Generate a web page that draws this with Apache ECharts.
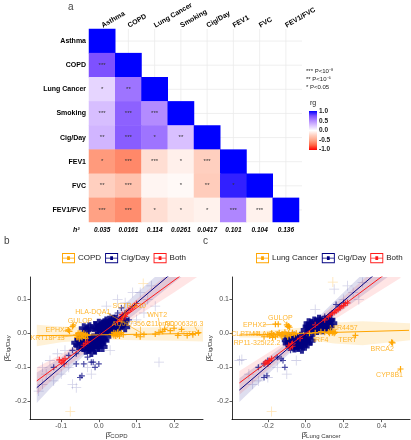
<!DOCTYPE html>
<html><head><meta charset="utf-8">
<script src="https://cdn.jsdelivr.net/npm/echarts@6/dist/echarts.min.js"></script>
<style>html,body{margin:0;padding:0;background:#fff}#c{width:411px;height:440px}</style>
</head><body><div id="c"></div>
<script>
// ---------- panel a: genetic correlations ----------
const traits = ['Asthma','COPD','Lung Cancer','Smoking','Cig/Day','FEV1','FVC','FEV1/FVC'];
const rgRows = [
  [1],
  [0.75, 1],
  [0.18, 0.60, 1],
  [0.28, 0.68, 0.50, 1],
  [0.32, 0.70, 0.60, 0.27, 1],
  [-0.55, -0.62, -0.17, -0.08, -0.25, 1],
  [-0.25, -0.33, -0.05, -0.03, -0.27, 0.90, 1],
  [-0.52, -0.60, -0.17, -0.10, -0.07, 0.52, -0.07, 1]
];
const starRows = [
  [''],
  ['***',''],
  ['*','**',''],
  ['***','***','***',''],
  ['**','***','*','**',''],
  ['*','***','***','*','***',''],
  ['**','***','','*','**','*',''],
  ['***','***','*','*','*','***','***','']
];
const h2Labels = ['0.035','0.0161','0.114','0.0261','0.0417','0.101','0.104','0.136'];
const rgColors = ['#FF0000','#FF6846','#FFA689','#FFCFBF','#FFFFFF','#DCC5FF','#B38BFF','#7E51FF','#0000FF'];
const rgTicks = ['1.0','0.5','0.0','-0.5','-1.0'];
const pLegend = ['*** P<10\u207B\u2078','** P<10\u207B\u2075','* P<0.05'];

// ---------- panel b: COPD vs Cig/Day ----------
const cigBlobB = [[-0.005,0.010],[0.000,0.015],[0.000,0.028],[0.005,0.020],[0.010,0.005],[0.010,0.012],[0.010,0.025],[0.015,0.018],[0.015,0.030],[0.020,0.010],[0.020,0.022],[0.020,0.035],[0.025,0.015],[0.025,0.028],[0.030,0.008],[0.030,0.020],[0.030,0.035],[0.035,0.012],[0.035,0.025],[0.038,0.040],[0.040,0.018],[0.040,0.030],[0.045,0.022],[0.045,0.040],[0.050,0.015],[0.050,0.028],[0.055,0.020],[0.058,0.035],[0.060,0.025],[0.065,0.030],[0.070,0.018],[0.068,0.040],[-0.040,0.015],[-0.030,0.012],[-0.025,0.018],[-0.010,0.022],
  [-0.060,-0.028],[-0.055,-0.035],[-0.050,-0.020],[-0.045,-0.030],[-0.045,-0.010],[-0.040,-0.015],[-0.040,-0.040],[-0.035,-0.025],[-0.035,-0.048],[-0.030,-0.035],[-0.030,-0.010],[-0.025,-0.020],[-0.025,-0.045],[-0.020,-0.030],[-0.020,-0.055],[-0.015,-0.015],[-0.015,-0.038],[-0.010,-0.025],[-0.010,-0.048],[-0.005,-0.032],[-0.005,-0.010],[0.000,-0.020],[0.000,-0.040],[0.005,-0.028],[0.010,-0.015],[0.015,-0.022],[0.020,-0.010],[0.010,-0.040]];
const cigSparseB = [[-0.120,-0.100],[-0.080,-0.065],[-0.070,-0.050],[-0.060,-0.090],[-0.060,-0.060],[-0.050,-0.130],[-0.045,-0.125],[-0.040,-0.090],[-0.030,-0.070],[-0.020,-0.085],[-0.015,-0.085],[-0.010,-0.100],[0.000,-0.090],[0.030,0.050],[0.050,0.060],[0.060,0.075],[0.070,0.060],[0.080,0.040]];
const fadedB = [[-0.160,-0.170],[-0.150,-0.100],[-0.140,-0.120],[-0.130,-0.080],[-0.120,-0.140],[-0.110,-0.060],[-0.100,-0.120],[-0.090,-0.050],[-0.080,-0.100],[-0.070,-0.150],[-0.060,-0.160],[-0.020,-0.120],[0.030,-0.050],[0.020,0.080],[0.080,0.030],[0.090,0.120],[0.100,0.040],[0.110,0.120],[0.120,0.060],[0.130,0.100],[0.140,0.140],[0.150,0.080],[0.160,-0.085],[-0.150,-0.150],[0.050,0.100],[-0.030,-0.100],[0.070,0.090]];
const fadedOrangeB = [[0.118,0.147],[-0.076,-0.230]];
const bothB = [[-0.105,-0.078],[-0.100,-0.085],[-0.095,-0.080],[-0.092,-0.090],[-0.090,-0.075],[-0.040,-0.035],[-0.035,-0.030],[-0.030,-0.025],[0.050,0.035],[0.055,0.042],[0.060,0.040],[0.060,0.048],[0.062,0.055],[0.065,0.052],[0.070,0.050],[0.070,0.058],[0.075,0.062],[0.080,0.068],[0.085,0.072],[0.090,0.078],[0.095,0.082],[0.100,0.088]];
const copdB = [[-0.081,0.010],[-0.078,0.006],[-0.070,0.020],[-0.068,0.024],[-0.060,-0.005],[-0.058,-0.012],[-0.055,0.000],[-0.052,-0.016],[-0.050,-0.008],[-0.050,0.002],[-0.045,-0.003],[-0.045,-0.012],[-0.040,0.000],[-0.040,-0.008],[-0.035,-0.004],[-0.035,-0.015],[-0.030,-0.006],[0.035,-0.003],[0.040,0.002],[0.040,-0.006],[0.045,0.000],[0.045,-0.008],[0.050,0.003],[0.050,-0.004],[0.055,-0.001],[0.055,-0.008],[0.060,0.002],[0.065,-0.004],[0.100,-0.005],[0.110,-0.010],[0.120,-0.003],[0.150,-0.002],[0.160,0.003],[0.170,0.006],[0.175,0.012],[0.190,0.008],[0.200,0.015],[0.210,-0.006],[0.220,0.012],[0.235,-0.006],[0.250,-0.004],[0.265,0.002]];
const copdLineB = [[-0.165,-0.007],[0.27,0.0]];
const cigLineB = [[-0.165,-0.160],[0.19,0.174]];
const bothLineB = [[-0.165,-0.140],[0.215,0.168]];
const bandXB = [-0.165,-0.1,0,0.1,0.2,0.28];
const cigLoB = [-0.205,-0.128,-0.025,0.060,0.150,0.215];
const cigHiB = [-0.115,-0.070,0.015,0.118,0.216,0.300];
const bothLoB = [-0.180,-0.112,-0.024,0.050,0.120,0.180];
const bothHiB = [-0.100,-0.062,0.012,0.100,0.190,0.270];
const copdLoB = [-0.038,-0.026,-0.018,-0.020,-0.022,-0.024];
const copdHiB = [0.025,0.020,0.016,0.017,0.019,0.021];
const labelsB = [['HLA-DQA1',-0.016,0.063],['SCTR/A10',0.081,0.080],['WNT2',0.155,0.054],['GULOP',-0.050,0.037],['EPHX2',-0.111,0.011],['KRT18P13',-0.136,-0.015],['AC097356.2',0.086,0.028],['C11orf30',0.163,0.028],['AC006326.3',0.226,0.028],['CFTR',0.235,-0.001]];
const segB = [[0.022,0.060,0.120,-0.003],[0.074,0.072,0.050,0.004],[0.158,0.046,0.165,0.004],[-0.058,0.030,-0.068,0.024],[-0.092,0.010,-0.081,0.010],[-0.108,-0.012,-0.060,-0.006],[0.110,0.020,0.110,-0.008],[0.185,0.020,0.175,0.012],[0.255,0.020,0.265,0.002]];

// ---------- panel c: Lung Cancer vs Cig/Day ----------
const cigBlobC = [[0.000,0.010],[0.010,0.020],[0.015,0.030],[0.020,0.008],[0.025,0.018],[0.030,0.028],[0.035,0.012],[0.040,0.022],[0.045,0.035],[0.050,0.015],[0.055,0.025],[0.060,0.010],[0.060,0.032],[0.065,0.020],[0.070,0.028],[0.075,0.015],[0.080,0.035],[0.085,0.022],[0.090,0.012],[0.095,0.030],[0.100,0.020],[0.105,0.038],[0.110,0.025],[0.115,0.015],[0.120,0.032],[0.125,0.022],[0.130,0.040],[0.140,0.030],[0.070,0.040],[0.040,0.005],
  [-0.100,-0.020],[-0.095,-0.030],[-0.090,-0.012],[-0.085,-0.025],[-0.080,-0.035],[-0.075,-0.018],[-0.070,-0.028],[-0.065,-0.010],[-0.060,-0.022],[-0.055,-0.035],[-0.050,-0.015],[-0.045,-0.028],[-0.040,-0.040],[-0.035,-0.020],[-0.030,-0.030],[-0.025,-0.010],[-0.020,-0.025],[-0.015,-0.036],[-0.010,-0.015],[-0.005,-0.028],[0.000,-0.020],[0.010,-0.030],[0.015,-0.012],[0.025,-0.022],[-0.060,-0.042],[-0.020,-0.045]];
const cigSparseC = [[-0.250,-0.100],[-0.220,-0.130],[-0.220,-0.090],[-0.205,-0.125],[-0.200,-0.080],[-0.150,-0.070],[-0.130,-0.075],[-0.120,-0.080],[-0.110,-0.100],[-0.080,-0.050],[-0.060,-0.045],[0.100,0.050],[0.140,0.060],[0.180,0.080],[0.200,0.090],[0.160,0.085]];
const fadedC = [[-0.350,-0.080],[-0.337,-0.077],[-0.300,-0.120],[-0.280,-0.150],[-0.250,-0.140],[-0.200,-0.130],[-0.150,-0.100],[-0.100,-0.120],[0.150,0.130],[0.200,0.100],[0.250,0.120],[0.280,0.100],[0.300,0.150],[0.220,0.140],[0.050,0.070],[-0.050,-0.080]];
const fadedOrangeC = [[0.143,0.151],[-0.180,-0.230]];
const bothC = [[-0.215,-0.088],[-0.210,-0.085],[-0.200,-0.090],[-0.195,-0.082],[-0.190,-0.080],[-0.180,-0.075],[-0.090,-0.035],[-0.085,-0.042],[-0.080,-0.040],[-0.075,-0.032],[-0.070,-0.030],[-0.070,-0.038],[-0.030,-0.015],[0.050,0.025],[0.100,0.040],[0.120,0.050],[0.130,0.055],[0.140,0.060],[0.150,0.062],[0.160,0.066],[0.170,0.070],[0.180,0.075],[0.190,0.080],[0.200,0.082],[0.210,0.088],[0.220,0.090]];
const lungC = [[-0.220,-0.010],[-0.200,-0.004],[-0.190,-0.008],[-0.180,0.000],[-0.175,-0.012],[-0.170,-0.005],[-0.160,-0.010],[-0.160,0.027],[-0.150,-0.003],[-0.145,0.027],[-0.140,0.002],[-0.130,-0.006],[-0.125,-0.010],[-0.120,-0.002],[-0.110,0.003],[-0.100,-0.004],[-0.100,0.025],[-0.095,-0.010],[-0.095,0.020],[-0.090,0.000],[-0.090,0.022],[-0.085,0.018],[-0.080,-0.006],[-0.070,0.002],[-0.060,-0.003],[-0.050,0.000],[0.020,0.000],[0.050,0.002],[0.080,0.005],[0.100,0.003],[0.120,0.004],[0.125,0.000],[0.130,0.006],[0.140,0.002],[0.145,0.005],[0.150,0.000],[0.155,0.003],[0.262,-0.006],[0.453,-0.026],[0.458,-0.028],[0.500,-0.105]];
const lungLineC = [[-0.35,-0.005],[0.545,0.009]];
const cigLineC = [[-0.35,-0.167],[0.36,0.172]];
const bothLineC = [[-0.35,-0.146],[0.41,0.171]];
const bandXC = [-0.35,-0.2,0,0.2,0.35,0.5];
const cigLoC = [-0.202,-0.121,-0.012,0.071,0.132,0.194];
const cigHiC = [-0.132,-0.071,0.012,0.121,0.202,0.284];
const bothLoC = [-0.181,-0.108,-0.012,0.058,0.111,0.163];
const bothHiC = [-0.111,-0.058,0.012,0.108,0.181,0.253];
const lungBandXC = [-0.35,-0.2,0,0.15,0.3,0.55];
const lungLoC = [-0.012,-0.014,-0.018,-0.030,-0.035,-0.020];
const lungHiC = [0.000,0.008,0.018,0.032,0.036,0.030];
const labelsC = [['GULOP',-0.134,0.046],['EPHX2',-0.270,0.025],['MIR4457',0.199,0.017],['CLPTM1L',-0.310,-0.001],['HLA-DQA1',-0.186,-0.001],['IRF4',0.079,-0.021],['TERT',0.220,-0.021],['RP11-325I22.2',-0.257,-0.030],['BRCA2',0.403,-0.047],['CYP8B1',0.442,-0.123]];
const segC = [[-0.120,0.040,-0.100,0.026],[-0.225,0.025,-0.160,0.027],[0.165,0.012,0.145,0.005],[0.240,-0.015,0.262,-0.006],[0.435,-0.038,0.453,-0.027],[0.480,-0.113,0.500,-0.105]];

// ---------- styling ----------
const FONT = 'Liberation Sans';
const ORANGE = '#FFA500', NAVY = '#000080', RED = '#FF1A1A';
const PLUS_THICK = 'path://M3,0H7V3H10V7H7V10H3V7H0V3H3Z';
const PLUS_THIN = 'path://M4,0H6V4H10V6H6V10H4V6H0V4H4Z';
const PLUS_HAIR = 'path://M4.6,0H5.4V4.6H10V5.4H5.4V10H4.6V5.4H0V4.6H4.6Z';
const KEY = 'path://M0,0H14V11H0Z M1,1V10H13V1Z M1,5H13V6H1Z M5.5,3.5H8.5V7.5H5.5Z';

const heatData = [];
rgRows.forEach((row, r) => row.forEach((v, c) => heatData.push([c, r, v])));

function band(xi, yi, xs, lo, hi, fill) {
  return {type:'custom', xAxisIndex:xi, yAxisIndex:yi, z:1, silent:true, data:[[xs[0], lo[0]]],
    renderItem: function(params, api) {
      const pts = [];
      for (let i = 0; i < xs.length; i++) pts.push(api.coord([xs[i], hi[i]]));
      for (let i = xs.length - 1; i >= 0; i--) pts.push(api.coord([xs[i], lo[i]]));
      const cs = params.coordSys;
      return {type:'polygon', shape:{points:pts}, style:{fill:fill},
        clipPath:{type:'rect', shape:{x:cs.x, y:cs.y, width:cs.width, height:cs.height}}};
    }};
}
function pts(name, xi, yi, data, symbol, size, color, opacity, z) {
  return {type:'scatter', name:name, xAxisIndex:xi, yAxisIndex:yi, data:data, symbol:symbol, symbolSize:size,
    itemStyle:{color:color, opacity:opacity}, z:z, silent:true};
}
function line(name, xi, yi, data, color) {
  return {type:'line', name:name, xAxisIndex:xi, yAxisIndex:yi, data:data, symbol:'none', clip:true,
    lineStyle:{color:color, width:1}, itemStyle:{color:color}, z:6, silent:true};
}
function labels(xi, yi, list) {
  return {type:'scatter', xAxisIndex:xi, yAxisIndex:yi, symbolSize:0, z:8, silent:true,
    data:list.map(l => ({name:l[0], value:[l[1], l[2]]})),
    label:{show:true, position:'inside', formatter:p => p.name, color:ORANGE, fontSize:7, fontFamily:FONT}};
}
function segs(xi, yi, list) {
  return {type:'lines', coordinateSystem:'cartesian2d', xAxisIndex:xi, yAxisIndex:yi, z:7, silent:true,
    data:list.map(s => ({coords:[[s[0], s[1]], [s[2], s[3]]]})),
    lineStyle:{color:ORANGE, width:0.6, opacity:1}};
}
function valAxis(grid, min, max, extra) {
  return Object.assign({type:'value', gridIndex:grid, min:min, max:max, splitLine:{show:false},
    axisLine:{show:true, onZero:false, lineStyle:{color:'#000', width:0.8}},
    axisTick:{show:true, length:2.5, lineStyle:{color:'#333', width:0.8}},
    axisLabel:{fontSize:7, color:'#4D4D4D', fontFamily:FONT, margin:3, showMinLabel:false, showMaxLabel:false,
      formatter: v => v.toFixed(1)}}, extra);
}
const subRich = {b:{fontSize:8, fontFamily:FONT, color:'#333'}, s:{fontSize:6, fontFamily:FONT, color:'#333', padding:[3,0,0,0]}};

const legendCommon = {itemWidth:13, itemHeight:11, itemGap:4, padding:0, icon:KEY, textStyle:{fontSize:8, fontFamily:FONT, color:'#222', padding:[0,0,0,-2]}, itemStyle:{opacity:1}, selectedMode:false};

const graphicEls = [
  {type:'text', left:68, top:2, style:{text:'a', fontSize:10, fontFamily:FONT, fill:'#444'}},
  {type:'text', left:4, top:236, style:{text:'b', fontSize:10, fontFamily:FONT, fill:'#444'}},
  {type:'text', left:203, top:236, style:{text:'c', fontSize:10, fontFamily:FONT, fill:'#444'}},
  {type:'text', left:73, top:227, style:{text:'h\u00B2', fontSize:7, fontWeight:'bold', fontStyle:'italic', fontFamily:FONT, fill:'#000'}},
  {type:'text', left:310, top:100, style:{text:'rg', fontSize:7, fontFamily:FONT, fill:'#222'}},
  {type:'rect', shape:{x:309, y:111, width:8, height:39}, style:{fill:new echarts.graphic.LinearGradient(0,0,0,1,
      rgColors.slice().reverse().map((c,i,a) => ({offset:i/(a.length-1), color:c})))}}
];
pLegend.forEach((t, i) => graphicEls.push({type:'text', left:306, top:68 + i*8, style:{text:t, fontSize:6, fontFamily:FONT, fill:'#222'}}));
rgTicks.forEach((t, i) => graphicEls.push({type:'text', left:319, top:108 + i*9.5, style:{text:t, fontSize:6.5, fontWeight:'bold', fontFamily:FONT, fill:'#222'}}));

const option = {
  animation:false,
  backgroundColor:'#fff',
  textStyle:{fontFamily:FONT},
  grid:[
    {left:89, top:29, width:210, height:193},
    {left:30, top:277, width:173, height:144},
    {left:232, top:277, width:178, height:144}
  ],
  xAxis:[
    {type:'category', gridIndex:0, data:traits, position:'top', axisLine:{show:false}, axisTick:{show:false}, splitLine:{show:false},
      axisLabel:{rotate:-30, fontSize:7, fontWeight:'bold', color:'#000', margin:3, fontFamily:FONT, interval:0}},
    {type:'category', gridIndex:0, data:h2Labels, position:'bottom', axisLine:{show:false}, axisTick:{show:false},
      axisLabel:{fontSize:6.5, fontWeight:'bold', fontStyle:'italic', color:'#000', margin:5, fontFamily:FONT, interval:0}},
    valAxis(1, -0.183, 0.277, {name:'{b|\u03B2\u0302}{s|COPD}', nameLocation:'middle', nameGap:10, nameTextStyle:{rich:subRich}}),
    valAxis(2, -0.389, 0.55, {name:'{b|\u03B2\u0302}{s|Lung Cancer}', nameLocation:'middle', nameGap:10, nameTextStyle:{rich:subRich}})
  ],
  yAxis:[
    {type:'category', gridIndex:0, data:traits, inverse:true, axisLine:{show:false}, axisTick:{show:false}, splitLine:{show:false},
      axisLabel:{fontSize:7, fontWeight:'bold', color:'#000', margin:3, fontFamily:FONT, interval:0}},
    valAxis(1, -0.254, 0.166, {name:'{b|\u03B2\u0302}{s|Cig/Day}', nameLocation:'middle', nameGap:19, nameRotate:90, nameTextStyle:{rich:subRich}}),
    valAxis(2, -0.254, 0.166, {name:'{b|\u03B2\u0302}{s|Cig/Day}', nameLocation:'middle', nameGap:19, nameRotate:90, nameTextStyle:{rich:subRich}})
  ],
  visualMap:{type:'continuous', show:false, min:-1, max:1, dimension:2, seriesIndex:0, inRange:{color:rgColors}},
  legend:[
    Object.assign({left:62, top:253, data:['COPD','Cig/Day','Both']}, legendCommon),
    Object.assign({left:256, top:253, data:['Lung Cancer','Cig/Day','Both']}, legendCommon)
  ],
  graphic:graphicEls,
  series:[
    {type:'heatmap', xAxisIndex:0, yAxisIndex:0, data:heatData, z:3, silent:true,
      label:{show:true, fontSize:6, color:'#333', fontFamily:FONT, formatter:p => starRows[p.value[1]][p.value[0]]}},
    {type:'custom', xAxisIndex:0, yAxisIndex:0, z:1, silent:true, data:traits.map((t,i) => [i,i]),
      renderItem:function(params, api){
        const p = api.coord([api.value(0), api.value(1)]); const cs = params.coordSys;
        return {type:'group', children:[
          {type:'line', shape:{x1:p[0], y1:cs.y, x2:p[0], y2:cs.y+cs.height}, style:{stroke:'#EBEBEB', lineWidth:0.8}},
          {type:'line', shape:{x1:cs.x, y1:p[1], x2:cs.x+cs.width+3, y2:p[1]}, style:{stroke:'#EBEBEB', lineWidth:0.8}}]};
      }},
    // panel b
    band(2, 1, bandXB, cigLoB, cigHiB, 'rgba(0,0,128,0.13)'),
    band(2, 1, bandXB, bothLoB, bothHiB, 'rgba(255,0,0,0.10)'),
    band(2, 1, bandXB, copdLoB, copdHiB, 'rgba(255,165,0,0.16)'),
    pts('fb', 2, 1, fadedB, PLUS_HAIR, 10, NAVY, 0.18, 2),
    pts('fob', 2, 1, fadedOrangeB, PLUS_HAIR, 10, ORANGE, 0.3, 2),
    pts('sb', 2, 1, cigSparseB, PLUS_THIN, 6, NAVY, 0.7, 3),
    pts('Cig/Day', 2, 1, cigBlobB, PLUS_THICK, 10, NAVY, 0.85, 3),
    pts('COPD', 2, 1, copdB, PLUS_THIN, 6, ORANGE, 0.95, 4),
    pts('Both', 2, 1, bothB, PLUS_THIN, 6, RED, 0.85, 5),
    line('lb1', 2, 1, copdLineB, ORANGE),
    line('lb2', 2, 1, cigLineB, NAVY),
    line('lb3', 2, 1, bothLineB, RED),
    segs(2, 1, segB),
    labels(2, 1, labelsB),
    // panel c
    band(3, 2, bandXC, cigLoC, cigHiC, 'rgba(0,0,128,0.13)'),
    band(3, 2, bandXC, bothLoC, bothHiC, 'rgba(255,0,0,0.10)'),
    band(3, 2, lungBandXC, lungLoC, lungHiC, 'rgba(255,165,0,0.16)'),
    pts('fc', 3, 2, fadedC, PLUS_HAIR, 10, NAVY, 0.18, 2),
    pts('foc', 3, 2, fadedOrangeC, PLUS_HAIR, 10, ORANGE, 0.3, 2),
    pts('sc', 3, 2, cigSparseC, PLUS_THIN, 6, NAVY, 0.7, 3),
    pts('Cig/Day', 3, 2, cigBlobC, PLUS_THICK, 10, NAVY, 0.85, 3),
    pts('Lung Cancer', 3, 2, lungC, PLUS_THIN, 6, ORANGE, 0.95, 4),
    pts('Both', 3, 2, bothC, PLUS_THIN, 6, RED, 0.85, 5),
    line('lc1', 3, 2, lungLineC, ORANGE),
    line('lc2', 3, 2, cigLineC, NAVY),
    line('lc3', 3, 2, bothLineC, RED),
    segs(3, 2, segC),
    labels(3, 2, labelsC)
  ]
};
const chart = echarts.init(document.getElementById('c'), null, {renderer:'canvas'});
chart.setOption(option);
</script>
</body></html>
